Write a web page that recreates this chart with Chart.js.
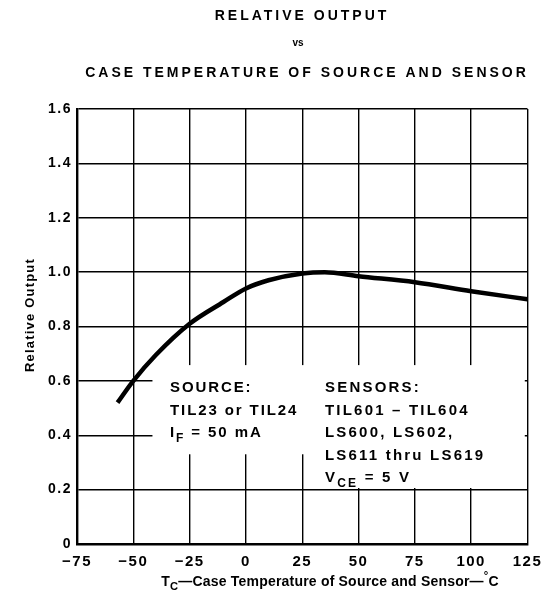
<!DOCTYPE html>
<html lang="en"><head>
<meta charset="utf-8"/>
<title>Relative Output vs Case Temperature</title>
<script src="https://cdn.jsdelivr.net/npm/chart.js"></script>
<style>
        body { margin: 0; background: #fff; }
        #wrap { width: 549px; height: 612px; }
    </style>
</head>
<body>
<div id="wrap"><canvas id="chart" width="549" height="612"></canvas></div>
<script>
        // values
        const temps = [-57, -50, -40, -25, -10, 0, 10, 25, 35, 50, 75, 100, 125];
        const relOutput = [0.52, 0.60, 0.695, 0.81, 0.89, 0.94, 0.97, 0.995, 1.0, 0.985, 0.963, 0.93, 0.90];
        const xTicks = [-75, -50, -25, 0, 25, 50, 75, 100, 125];
        const yTicks = [0, 0.2, 0.4, 0.6, 0.8, 1.0, 1.2, 1.4, 1.6];

        const FONT = '"Liberation Sans", Arial, sans-serif';

        // draws text made of pieces, some of them sub/superscript
        function drawParts(ctx, parts, x, y, size, weight, spacing) {
            let cx = x;
            parts.forEach(p => {
                const s = p.sub || p.sup ? size * 0.8 : size;
                ctx.font = weight + ' ' + s + 'px ' + FONT;
                ctx.letterSpacing = spacing + 'px';
                const dy = p.sub ? size * 0.35 : (p.sup ? -size * 0.45 : 0);
                ctx.fillText(p.t, cx, y + dy);
                cx += ctx.measureText(p.t).width;
            });
            return cx - x;
        }
        function partsWidth(ctx, parts, size, weight, spacing) {
            let w = 0;
            parts.forEach(p => {
                const s = p.sub || p.sup ? size * 0.8 : size;
                ctx.font = weight + ' ' + s + 'px ' + FONT;
                ctx.letterSpacing = spacing + 'px';
                w += ctx.measureText(p.t).width;
            });
            return w;
        }

        const boxPlugin = {
            id: 'boxes',
            beforeDraw(chart) {
                // a little extra spacing for the tick labels, like the scanned lettering
                chart.ctx.letterSpacing = '1.5px';
            },
            beforeDatasetsDraw(chart) {
                const { ctx, scales: { x, y } } = chart;
                ctx.save();
                ctx.fillStyle = '#fff';
                // white area behind the notes, grid hidden there
                let l = x.getPixelForValue(-41.5), r = x.getPixelForValue(123.8);
                let t = y.getPixelForValue(0.658), b = y.getPixelForValue(0.33);
                ctx.fillRect(l, t, r - l, b - t);
                l = x.getPixelForValue(29);
                t = b - 1;
                b = y.getPixelForValue(0.206);
                ctx.fillRect(l, t, r - l, b - t);
                ctx.restore();
            },
            afterDraw(chart) {
                const { ctx, chartArea: a } = chart;
                ctx.save();
                ctx.fillStyle = '#000';
                ctx.textBaseline = 'middle';
                ctx.textAlign = 'left';

                // notes
                const sx = a.left + 93, kx = a.left + 248, ty = a.top + 279, lh = 22.5;
                const src = [
                    [{ t: 'SOURCE:' }],
                    [{ t: 'TIL23 or TIL24' }],
                    [{ t: 'I' }, { t: 'F', sub: true }, { t: ' = 50 mA' }]
                ];
                src.forEach((p, i) => drawParts(ctx, p, sx, ty + i * lh, 15, 'bold', 1.9));
                const sen = [
                    [{ t: 'SENSORS:' }],
                    [{ t: 'TIL601 – TIL604' }],
                    [{ t: 'LS600, LS602,' }],
                    [{ t: 'LS611 thru LS619' }],
                    [{ t: 'V' }, { t: 'CE', sub: true }, { t: ' = 5 V' }]
                ];
                sen.forEach((p, i) => drawParts(ctx, p, kx, ty + i * lh, 15, 'bold', 2.2));

                // titles
                const titles = [
                    ['RELATIVE OUTPUT', 302, 16, 14, 3],
                    ['vs', 298, 43, 10, 0],
                    ['CASE TEMPERATURE OF SOURCE AND SENSOR', 307, 73, 14, 3]
                ];
                titles.forEach(([txt, cx, cy, sz, sp]) => {
                    const w = partsWidth(ctx, [{ t: txt }], sz, 'bold', sp);
                    drawParts(ctx, [{ t: txt }], cx - w / 2, cy, sz, 'bold', sp);
                });

                // x axis title
                const xt = [
                    { t: 'T' }, { t: 'C', sub: true },
                    { t: '—Case Temperature of Source and Sensor—' },
                    { t: '°', sup: true }, { t: 'C' }
                ];
                const xw = partsWidth(ctx, xt, 14, 'bold', 0.2);
                drawParts(ctx, xt, 330 - xw / 2, 582, 14, 'bold', 0.2);

                // y axis title
                ctx.translate(30, 315);
                ctx.rotate(-Math.PI / 2);
                const yt = [{ t: 'Relative Output' }];
                const yw = partsWidth(ctx, yt, 13, 'bold', 1.2);
                drawParts(ctx, yt, -yw / 2, 0, 13, 'bold', 1.2);
                ctx.restore();
            }
        };

        const ctx = document.getElementById('chart').getContext('2d');
        new Chart(ctx, {
            type: 'line',
            data: {
                datasets: [{
                    data: temps.map((t, i) => ({ x: t, y: relOutput[i] })),
                    borderColor: '#000',
                    borderWidth: 4.5,
                    pointRadius: 0,
                    fill: false,
                    cubicInterpolationMode: 'monotone',
                    borderCapStyle: 'butt'
                }]
            },
            options: {
                responsive: false,
                animation: false,
                layout: { padding: { top: 109, right: 18, left: 0, bottom: 0 } },
                plugins: { legend: { display: false }, tooltip: { enabled: false } },
                scales: {
                    x: {
                        type: 'linear',
                        min: -75,
                        max: 125,
                        afterFit: s => { s.height = 68; },
                        afterBuildTicks: s => { s.ticks = xTicks.map(v => ({ value: v })); },
                        grid: { color: '#000', lineWidth: 1.4, drawTicks: false },
                        border: { color: '#000', width: 2.4 },
                        ticks: {
                            color: '#000',
                            padding: 9,
                            font: { family: FONT, size: 15, weight: 'bold' },
                            callback: v => v < 0 ? '−' + Math.abs(v) : String(v)
                        }
                    },
                    y: {
                        min: 0,
                        max: 1.6,
                        afterFit: s => { s.width = 77; },
                        afterBuildTicks: s => { s.ticks = yTicks.map(v => ({ value: v })); },
                        grid: { color: '#000', lineWidth: 1.4, drawTicks: false },
                        border: { color: '#000', width: 2.4 },
                        ticks: {
                            color: '#000',
                            padding: 5,
                            font: { family: FONT, size: 14, weight: 'bold' },
                            callback: v => v === 0 ? '0' : v.toFixed(1)
                        }
                    }
                }
            },
            plugins: [boxPlugin]
        });
    </script>
</body></html>
